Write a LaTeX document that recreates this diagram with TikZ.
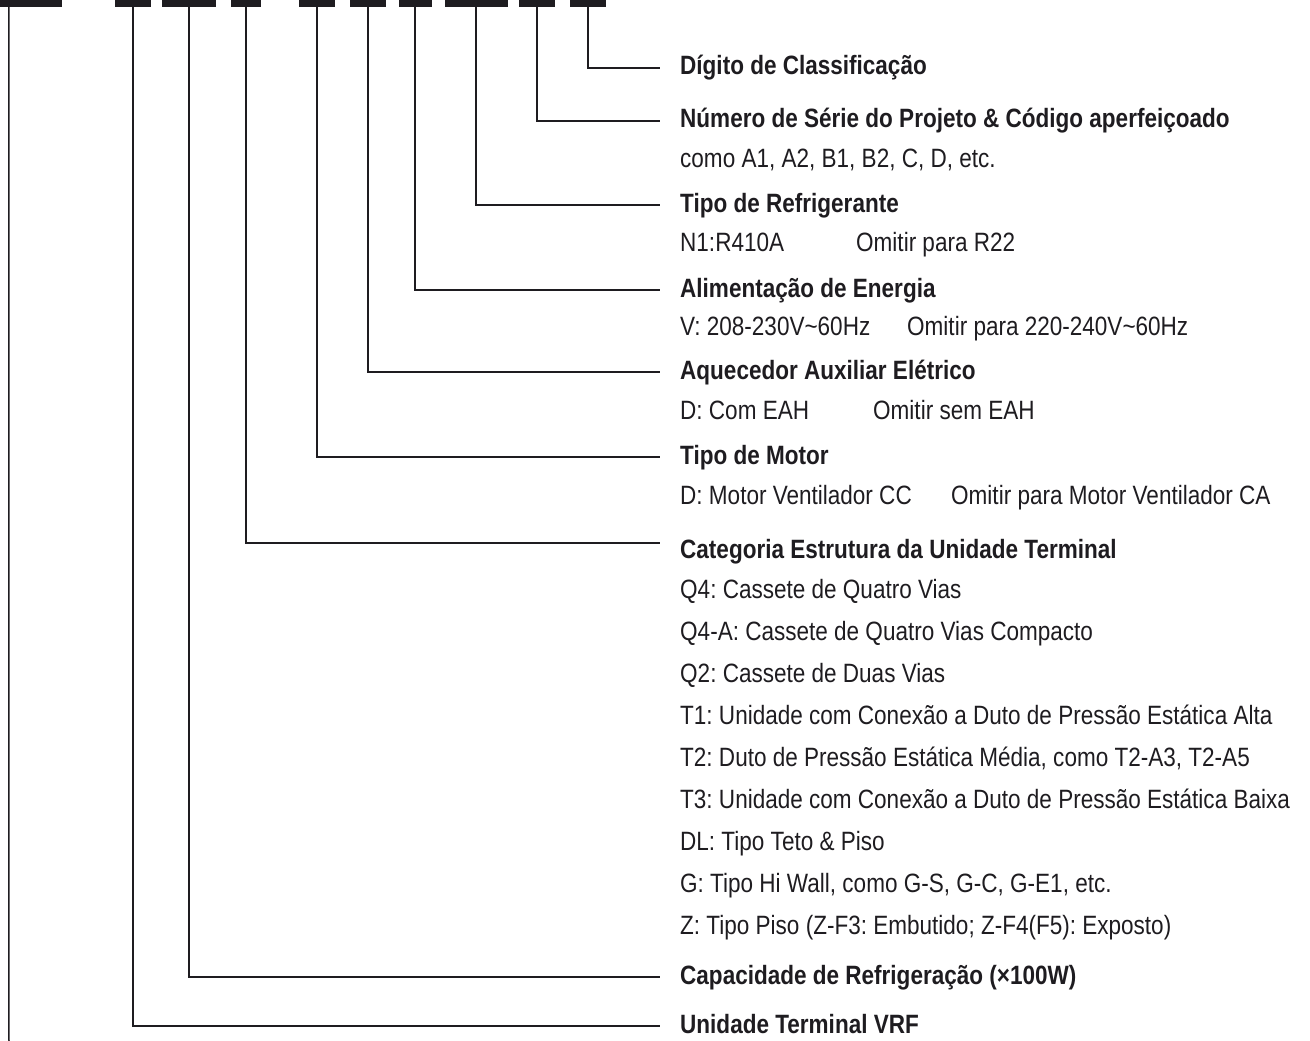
\documentclass[tikz,border=0pt]{standalone}
\usepackage{fontspec}
\setmainfont{Liberation Sans}[FakeStretch=0.85]
\usetikzlibrary{positioning}
\definecolor{ink}{RGB}{30,28,32}
\frenchspacing

\begin{document}
\begin{tikzpicture}[x=1pt, y=-1pt,
  bar/.style={draw=none, fill=ink, minimum height=7pt, inner sep=0pt},
  wire/.style={draw=ink, line width=1.5pt},
  head/.style={font=\fontsize{26.5}{30}\selectfont\bfseries, text=ink, inner sep=0pt,
    text height=19pt, text depth=5pt, anchor=west},
  sub/.style={font=\fontsize{26.5}{30}\selectfont, text=ink, inner sep=0pt,
    text height=19pt, text depth=5pt, anchor=west}
]
\useasboundingbox (0,0) rectangle (1310,1041);

% code bars along the top
\node[bar, minimum width=62pt] (b1) at (31,3.5) {};
\foreach \n/\cx/\w in {2/133/36, 3/189/54, 4/246/30, 5/317/36, 6/368/36,
                       7/415/33, 8/476/63, 9/537/36, 10/588/36}
  \node[bar, minimum width=\w pt] (b\n) at (\cx,3.5) {};

% line ends
\coordinate (e10) at (660,68);
\coordinate (e9) at (660,121);
\coordinate (e8) at (660,205);
\coordinate (e7) at (660,290);
\coordinate (e6) at (660,372);
\coordinate (e5) at (660,457);
\coordinate (e4) at (660,543);
\coordinate (e3) at (660,977);
\coordinate (e2) at (660,1026);
\coordinate (e1) at (9,1041);

% headings
\node[head, right=20pt of e10] (l10) {Dígito de Classificação};
\node[head, right=20pt of e9] (l9) {Número de Série do Projeto \& Código aperfeiçoado};
\node[head, right=20pt of e8] (l8) {Tipo de Refrigerante};
\node[head, right=20pt of e7] (l7) {Alimentação de Energia};
\node[head, right=20pt of e6] (l6) {Aquecedor Auxiliar Elétrico};
\node[head, right=20pt of e5] (l5) {Tipo de Motor};
\node[head, right=20pt of e4, yshift=-8pt] (l4) {Categoria Estrutura da Unidade Terminal};
\node[head, right=20pt of e3] (l3) {Capacidade de Refrigeração (×100W)};
\node[head, right=20pt of e2] (l2) {Unidade Terminal VRF};

% details
\node[sub] (s9) at (680,160) {como A1, A2, B1, B2, C, D, etc.};
\node[sub] (s8) at (680,244) {N1:R410A};
\node[sub] (o8) at (856,244) {Omitir para R22};
\node[sub] (s7) at (680,328) {V: 208-230V\textasciitilde 60Hz};
\node[sub] (o7) at (907,328) {Omitir para 220-240V\textasciitilde 60Hz};
\node[sub] (s6) at (680,412) {D: Com EAH};
\node[sub] (o6) at (873,412) {Omitir sem EAH};
\node[sub] (s5) at (680,497) {D: Motor Ventilador CC};
\node[sub] (o5) at (951,497) {Omitir para Motor Ventilador CA};
\foreach \t [count=\k from 0] in {Q4: Cassete de Quatro Vias,
    Q4-A: Cassete de Quatro Vias Compacto,
    Q2: Cassete de Duas Vias,
    T1: Unidade com Conexão a Duto de Pressão Estática Alta,
    {T2: Duto de Pressão Estática Média, como T2-A3, T2-A5},
    T3: Unidade com Conexão a Duto de Pressão Estática Baixa,
    DL: Tipo Teto \& Piso,
    {G: Tipo Hi Wall, como G-S, G-C, G-E1, etc.},
    {Z: Tipo Piso (Z-F3: Embutido; Z-F4(F5): Exposto)}}
  \node[sub] (c\k) at (680,591+42*\k) {\t};

% connectors
\foreach \n in {2,...,10}
  \draw[wire] (b\n.south) |- (e\n);
\draw[wire] ([xshift=9pt]b1.south west) -- (e1);
\end{tikzpicture}
\end{document}
